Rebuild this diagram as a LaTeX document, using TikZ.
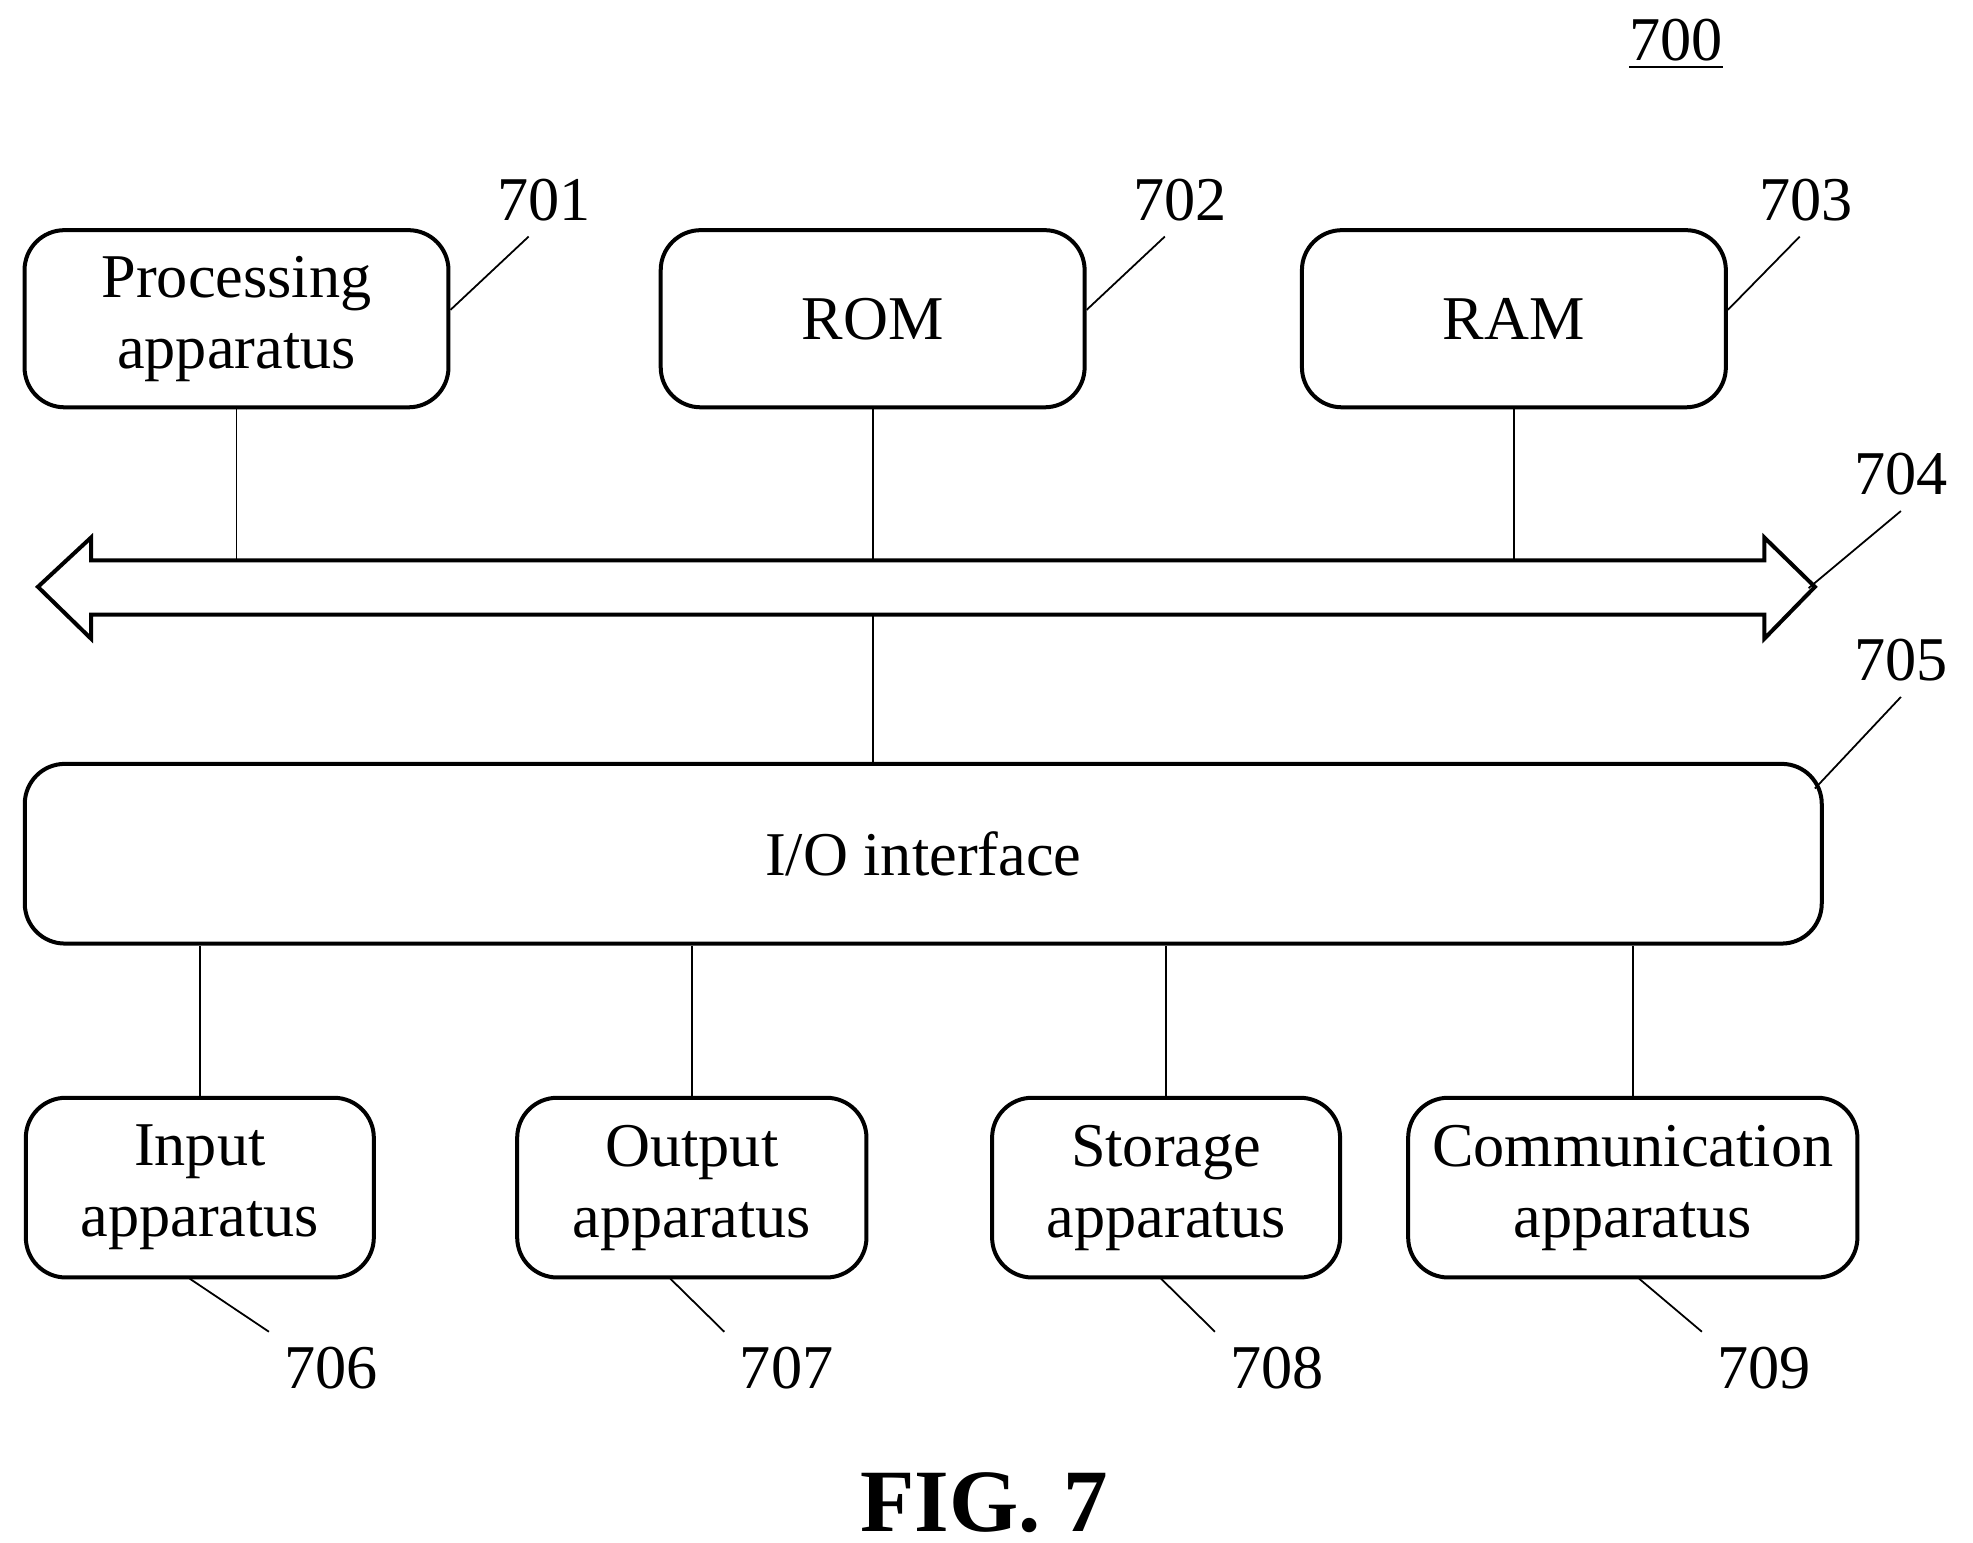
\documentclass[tikz,border=0pt]{standalone}
\usepackage{fontspec}
\setmainfont{Liberation Serif}
\begin{document}
\begin{tikzpicture}[x=0.01cm,y=-0.01cm,
    blk/.style={draw, rounded corners=9pt, line width=0.9pt, align=center, font=\fontsize{14}{16}\selectfont, inner sep=0pt},
    ref/.style={font=\fontsize{14}{17}\selectfont}]
  \useasboundingbox (0,0) rectangle (1560,1220);

  % top row
  \node[blk, minimum width=3.35cm, minimum height=1.4cm] (proc) at (187,252) {Processing\\apparatus};
  \node[blk, minimum width=3.35cm, minimum height=1.4cm] (rom) at (690,252) {ROM};
  \node[blk, minimum width=3.35cm, minimum height=1.4cm] (ram) at (1197,252) {RAM};

  % bus
  \draw[line width=0.9pt] (72,443) -- (1395,443) -- (1395,425) -- (1435,464) -- (1395,505)
    -- (1395,486) -- (72,486) -- (72,505) -- (30,464) -- (72,425) -- cycle;
  \coordinate (b1) at (187,443);
  \coordinate (b2) at (690,443);
  \coordinate (b3) at (1197,443);
  \coordinate (b4) at (690,486);
  \draw (proc) -- (b1);
  \draw (rom) -- (b2);
  \draw (ram) -- (b3);

  % I/O
  \node[blk, minimum width=14.2cm, minimum height=1.42cm] (io) at (730,675) {I/O interface};
  \draw (b4) -- (io.north -| b4);

  % bottom row
  \node[blk, minimum width=2.75cm, minimum height=1.42cm] (inp) at (158,939) {Input\\apparatus};
  \node[blk, minimum width=2.76cm, minimum height=1.42cm] (outp) at (547,939) {Output\\apparatus};
  \node[blk, minimum width=2.75cm, minimum height=1.42cm] (stor) at (922,939) {Storage\\apparatus};
  \node[blk, minimum width=3.55cm, minimum height=1.42cm] (comm) at (1291,939) {Communication\\apparatus};
  \foreach \n in {inp,outp,stor,comm}
    \draw (\n.north) -- (io.south -| \n.north);

  % reference numerals
  \node[ref] (l700) at (1325,35) {\underline{700}};
  \node[ref] (l701) at (430,158) {701};
  \node[ref] (l702) at (933,158) {702};
  \node[ref] (l703) at (1428,158) {703};
  \node[ref] (l704) at (1503,375) {704};
  \node[ref] (l705) at (1503,522) {705};
  \node[ref] (l706) at (262,1082) {706};
  \node[ref] (l707) at (622,1082) {707};
  \node[ref] (l708) at (1010,1082) {708};
  \node[ref] (l709) at (1395,1082) {709};
  \draw ([yshift=0.07cm]proc.east) -- ([xshift=-0.12cm]l701.south);
  \draw ([yshift=0.07cm]rom.east) -- ([xshift=-0.12cm]l702.south);
  \draw ([yshift=0.07cm]ram.east) -- ([xshift=-0.05cm]l703.south);
  \draw (1430,465) -- (l704.south);
  \draw ([xshift=-2pt,yshift=-6pt]io.north east) -- (l705.south);
  \draw (150,1011) -- (l706.north west);
  \draw (530,1011) -- (l707.north west);
  \draw (918,1011) -- (l708.north west);
  \draw (1296,1011) -- (l709.north west);

  \node[font=\bfseries\fontsize{20}{24}\selectfont] (fig) at (778,1188) {FIG. 7};
\end{tikzpicture}
\end{document}
